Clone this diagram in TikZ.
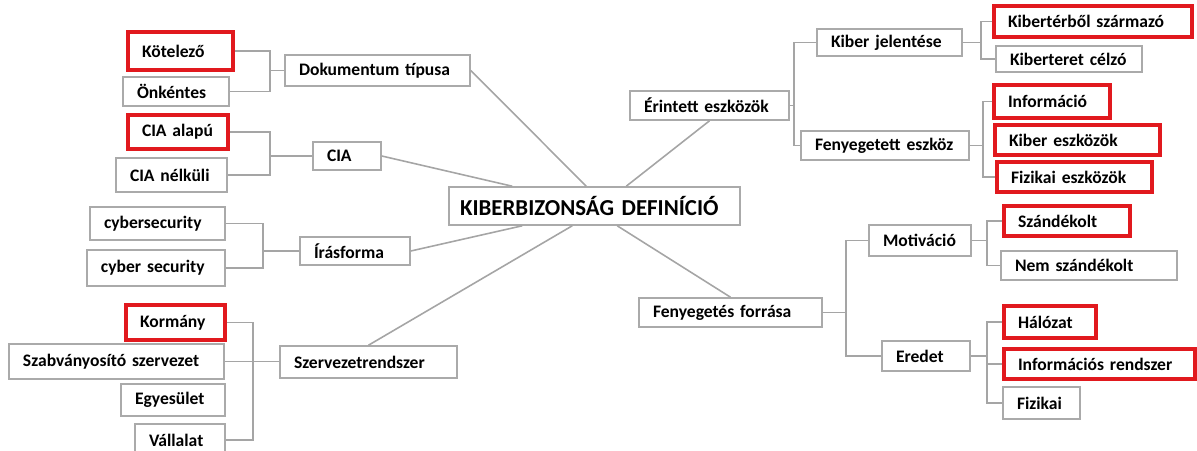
\documentclass[tikz,border=0pt]{standalone}
\usepackage{fontspec}
\setmainfont{Carlito}
\usetikzlibrary{calc}
\definecolor{lg}{RGB}{165,165,165}
\definecolor{bg}{RGB}{170,170,170}
\definecolor{rd}{RGB}{225,25,30}
\tikzset{
  conn/.style={draw=lg, line width=0.9pt},
  gbox/.style={draw=bg, line width=0.9pt, font=\bfseries\fontsize{10}{12}\selectfont},
  rbox/.style={draw=rd, line width=2pt, font=\bfseries\fontsize{10}{12}\selectfont},
  cbox/.style={draw=bg, line width=0.9pt, font=\bfseries\fontsize{13}{15}\selectfont}
}
% name, x1, y1, x2, y2, style, text  (pixel coordinates)
\newcommand\bx[7]{%
  \pgfmathsetmacro\bxw{(#4-#2)*0.02}%
  \pgfmathsetmacro\bxh{(#5-#3)*0.02}%
  \pgfmathsetmacro\bxt{(#4-#2-28)*0.02}%
  \node[#6, minimum width=\bxw cm, minimum height=\bxh cm, text width=\bxt cm,
        inner xsep=0.28cm, inner ysep=0pt, align=left]
        (#1) at ({(#2+#4)/2},{(#3+#5)/2-1}) {\mbox{#7}};}
\begin{document}
\begin{tikzpicture}[x=0.02cm, y=-0.02cm]
\useasboundingbox (0,0) rectangle (1197,450);
% centre
\node[cbox, minimum width=5.82cm, minimum height=0.76cm, text width=5.38cm,
      inner xsep=0.22cm, inner ysep=0pt, align=left]
      (center) at (594.5,206) {\mbox{KIBERBIZONSÁG DEFINÍCIÓ}};
% left side
\bx{dok}{285}{56}{470}{87}{gbox}{Dokumentum típusa}
\bx{kot}{128}{33}{233}{71}{rbox}{Kötelező}
\bx{onk}{123}{78}{229}{107}{gbox}{Önkéntes}
\bx{cia}{313}{143}{381}{171}{gbox}{CIA}
\bx{ciaa}{128}{116}{228}{150}{rbox}{CIA alapú}
\bx{cian}{116}{159}{227}{193}{gbox}{CIA nélküli}
\bx{iras}{300}{238}{410}{266}{gbox}{Írásforma}
\bx{cyba}{90}{208}{225}{241}{gbox}{cybersecurity}
\bx{cybb}{87}{251}{225}{287}{gbox}{cyber security}
\bx{szerv}{280}{347}{457}{379}{gbox}{Szervezetrendszer}
\bx{korm}{126}{306}{225}{341}{rbox}{Kormány}
\bx{szab}{9}{345}{224}{380}{gbox}{Szabványosító szervezet}
\bx{egy}{121}{385}{225}{417}{gbox}{Egyesület}
\bx{vall}{135}{425}{225}{457}{gbox}{Vállalat}
% right side
\bx{erint}{630}{92}{789}{121}{gbox}{Érintett eszközök}
\bx{kibj}{817}{30}{962}{57}{gbox}{Kiber jelentése}
\bx{kibt}{994}{7}{1192}{38}{rbox}{Kibertérből származó}
\bx{kibc}{996}{47}{1142}{73}{gbox}{Kiberteret célzó}
\bx{feny}{801}{132}{969}{161}{gbox}{Fenyegetett eszköz}
\bx{info}{994}{86}{1110}{119}{rbox}{Információ}
\bx{kibe}{995}{126}{1160}{156}{rbox}{Kiber eszközök}
\bx{fize}{997}{163}{1152}{193}{rbox}{Fizikai eszközök}
\bx{forr}{639}{299}{822}{328}{gbox}{Fenyegetés forrása}
\bx{mot}{869}{226}{971}{257}{gbox}{Motiváció}
\bx{szan}{1004}{207}{1130}{237}{rbox}{Szándékolt}
\bx{nsz}{1001}{252}{1177}{281}{gbox}{Nem szándékolt}
\bx{ered}{882}{342}{970}{372}{gbox}{Eredet}
\bx{hal}{1004}{307}{1096}{339}{rbox}{Hálózat}
\bx{irend}{1004}{350}{1195}{380}{rbox}{Információs rendszer}
\bx{fizi}{1003}{388}{1080}{420}{gbox}{Fizikai}
% bracket columns
\coordinate (bdok) at (270,0);
\coordinate (bcia) at (270,0);
\coordinate (biras) at (263,0);
\coordinate (bszerv) at (253,0);
\coordinate (berint) at (794,0);
\coordinate (bkibj) at (981,0);
\coordinate (bfeny) at (983,0);
\coordinate (bforr) at (846,0);
\coordinate (bmot) at (987,0);
\coordinate (bered) at (987,0);
% left brackets
\draw[conn] (kot.east) -| (bdok |- onk.east) -- (onk.east);
\draw[conn] (dok.west) -- (bdok |- dok.west);
\draw[conn] (ciaa.east) -| (bcia |- cian.east) -- (cian.east);
\draw[conn] (cia.west) -- (bcia |- cia.west);
\draw[conn] (cyba.east) -| (biras |- cybb.east) -- (cybb.east);
\draw[conn] (iras.west) -- (biras |- iras.west);
\draw[conn] (korm.east) -| (bszerv |- vall.east) -- (vall.east);
\draw[conn] (szab.east) -- (szerv.west |- szab.east);
% right brackets
\draw[conn] (kibj.west) -| (berint |- feny.west) -- (feny.west);
\draw[conn] (erint.east) -- (berint |- erint.east);
\draw[conn] (kibt.west) -| (bkibj |- kibc.west) -- (kibc.west);
\draw[conn] (kibj.east) -- (bkibj |- kibj.east);
\draw[conn] (info.west) -| (bfeny |- fize.west) -- (fize.west);
\draw[conn] (feny.east) -- (bfeny |- feny.east);
\draw[conn] (mot.west) -| (bforr |- ered.west) -- (ered.west);
\draw[conn] (forr.east) -- (bforr |- forr.east);
\draw[conn] (szan.west) -| (bmot |- nsz.west) -- (nsz.west);
\draw[conn] (mot.east) -- (bmot |- mot.east);
\draw[conn] (hal.west) -| (bered |- fizi.west) -- (fizi.west);
\draw[conn] (ered.east) -- (bered |- ered.east);
\draw[conn] (irend.west) -- (bered |- irend.west);
% spokes to the centre
\draw[conn] (dok.east) -- ($(center.north west)+(138,0)$);
\draw[conn] (cia.east) -- ($(center.north west)+(64,0)$);
\draw[conn] (iras.east) -- ($(center.south west)+(74,0)$);
\draw[conn] (szerv.north) -- ($(center.south west)+(124,0)$);
\draw[conn] (erint.south) -- ($(center.north west)+(178,0)$);
\draw[conn] (forr.north) -- ($(center.south west)+(169,0)$);
\end{tikzpicture}
\end{document}
